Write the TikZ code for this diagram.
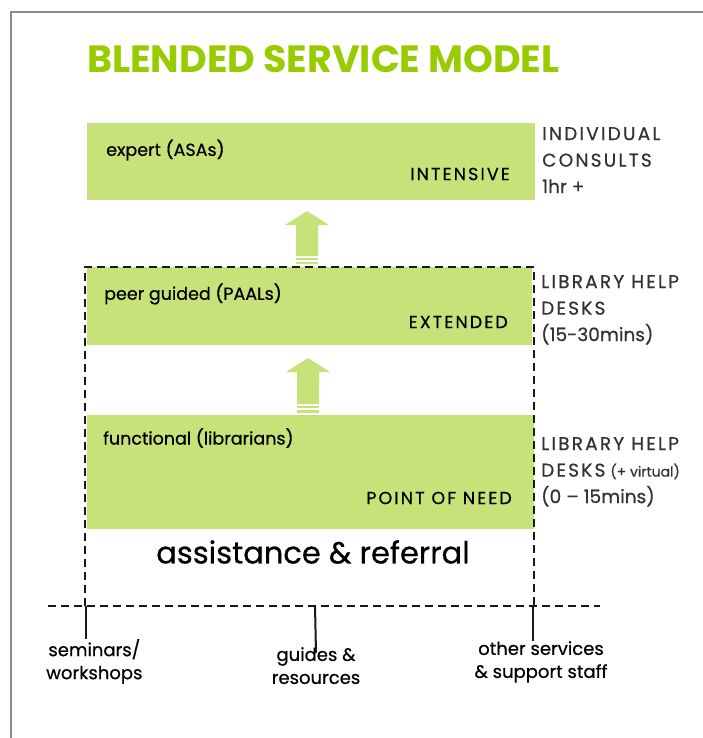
\documentclass[tikz,border=0pt]{standalone}
\usepackage{fontspec}
\setmainfont{Poppins}
\newfontfamily\trackedfont[LetterSpace=12,FakeBold=0.6]{Poppins}
\newfontfamily\semifont[FakeBold=0.6]{Poppins}
\definecolor{boxgreen}{HTML}{C8E27A}
\definecolor{titlegreen}{HTML}{99CC00}
\definecolor{labelgray}{HTML}{333333}
\definecolor{framegray}{HTML}{8C8C8C}
\tikzset{
  box/.style={fill=boxgreen, draw=none, inner sep=0pt, anchor=north west},
  boxtext/.style={inner sep=0pt, text=black, font=\semifont\fontsize{17.5}{19}\selectfont},
  levtext/.style={inner sep=0pt, text=black, font=\trackedfont\fontsize{17.5}{20}\selectfont},
  rlabel/.style={inner sep=0pt, anchor=north west, align=left, text=labelgray, font=\semifont\fontsize{18.5}{26.5}\selectfont},
  blabel/.style={inner sep=0pt, anchor=north, align=center, text=black, font=\semifont\fontsize{18}{23}\selectfont},
  dashline/.style={draw=black!90, line width=2.2pt, dash pattern=on 8pt off 5pt},
  tickline/.style={draw=black!90, line width=2pt},
}
\begin{document}
\begin{tikzpicture}[x=1pt,y=-1pt]
\useasboundingbox (0,0) rectangle (703,738);
\draw[framegray, line width=2pt] (11,738) -- (11,12) -- (703,12);

\node[anchor=base west, inner sep=0pt, text=titlegreen, font=\fontsize{38}{42}\selectfont\bfseries] (title) at (87,73) {BLENDED SERVICE MODEL};

% boxes
\node[box, minimum width=448pt, minimum height=77pt] (expert) at (87,123) {};
\node[box, minimum width=445pt, minimum height=78pt] (peer) at (87,267) {};
\node[box, minimum width=447pt, minimum height=114pt] (func) at (87,415) {};

\node[boxtext, anchor=west] (t1) at (106,150) {expert (ASAs)};
\node[levtext, anchor=east] (l1) at (510,174) {INTENSIVE};
\node[boxtext, anchor=west] (t2) at (104,294) {peer guided (PAALs)};
\node[levtext, anchor=east] (l2) at (508,322) {EXTENDED};
\node[boxtext, anchor=west] (t3) at (103,438) {functional (librarians)};
\node[levtext, anchor=east] (l3) at (512,498) {POINT OF NEED};

% block arrows
\fill[boxgreen] (307,211) -- (329,225) -- (318,225) -- (318,256) -- (296,256) -- (296,225) -- (285,225) -- cycle;
\fill[boxgreen] (296,258) rectangle (318,259.5);
\fill[boxgreen] (296,261.5) rectangle (318,263.5);
\fill[boxgreen] (308,358) -- (330,372) -- (319,372) -- (319,404) -- (297,404) -- (297,372) -- (286,372) -- cycle;
\fill[boxgreen] (297,406) rectangle (319,408);
\fill[boxgreen] (297,410) rectangle (319,412.5);

% dashed frame
\draw[dashline] (85,606) -- (85,267) -- (534,267) -- (534,606);
\draw[dashline] (48,606) -- (600,606);

\node[inner sep=0pt, font=\semifont\fontsize{30.5}{32}\selectfont] (assist) at (313,552) {assistance \& referral};

% right labels
\node[rlabel] (r1) at (542,127) {{\trackedfont INDIVIDUAL}\\{\trackedfont CONSULTS}\\1hr +};
\node[rlabel] (r2) at (541,275) {{\trackedfont LIBRARY HELP}\\{\trackedfont DESKS}\\(15-30mins)};
\node[rlabel] (r3) at (541,437) {{\trackedfont LIBRARY HELP}\\{\trackedfont DESKS} {\fontsize{14}{15}\selectfont(+ virtual)}\\(0 – 15mins)};

% bottom ticks and labels
\coordinate (c1) at (86,606);
\coordinate (c2) at (315,606);
\coordinate (c3) at (533,606);
\node[blabel, anchor=north west] (b1) at (46,639) {seminars/\\workshops};
\node[blabel] (b2) at (316,647) {guides \&\\resources};
\node[blabel] (b3) at (541,641) {other services\\\& support staff};
\draw[tickline] (c1) -- (c1 |- b1.north);
\draw[tickline] (c2) -- ([yshift=-6pt]b2.north);
\draw[tickline] (c3) -- (c3 |- b3.north);
\end{tikzpicture}
\end{document}
